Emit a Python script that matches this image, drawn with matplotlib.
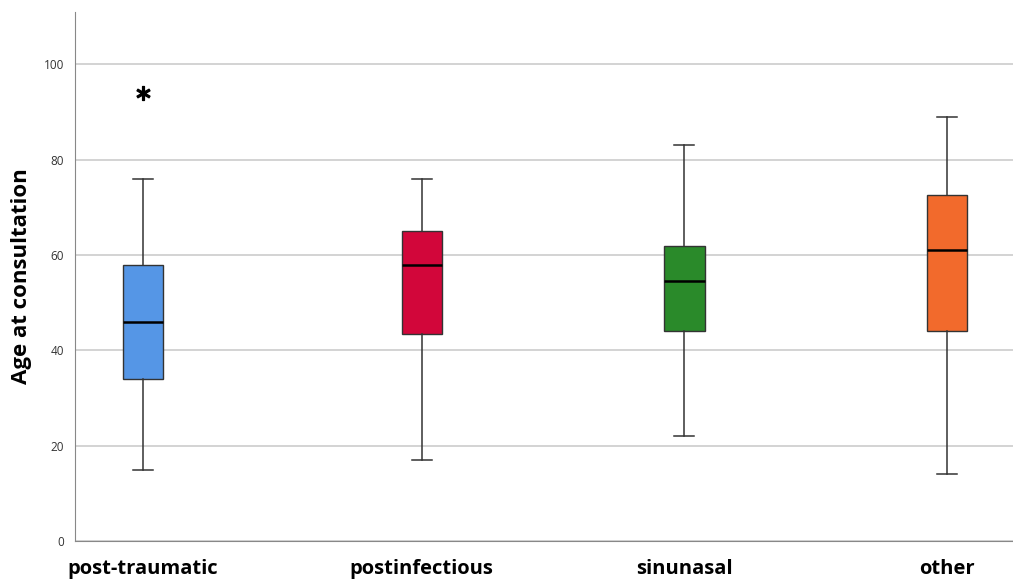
import matplotlib.pyplot as plt

# box statistics
groups = ["post-traumatic", "postinfectious", "sinunasal", "other"]
whislo = [15, 17, 22, 14]
q1 = [34, 43.5, 44, 44]
med = [46, 58, 54.5, 61]
q3 = [58, 65, 62, 72.5]
whishi = [76, 76, 83, 89]
outliers = [[94], [], [], []]
colors = ["#5596E6", "#D2063A", "#2A8A2A", "#F26A2C"]


def main():
    plt.rcParams["font.family"] = ["Open Sans", "DejaVu Sans"]
    fig = plt.figure(figsize=(10.13, 5.83), dpi=100)
    ax = fig.add_axes([75 / 1013, 1 - 541 / 583, 1 - 75 / 1013, (541 - 12) / 583])

    stats = []
    for i, g in enumerate(groups):
        stats.append({"label": g, "whislo": whislo[i], "q1": q1[i], "med": med[i],
                      "q3": q3[i], "whishi": whishi[i], "fliers": outliers[i]})

    pos = [0, 1.04, 2.02, 3]  # slightly uneven spacing as in the original
    bp = ax.bxp(stats, positions=pos, widths=0.15, patch_artist=True,
                showfliers=True,
                medianprops=dict(color="black", linewidth=1.8),
                whiskerprops=dict(color="#333333", linewidth=1.1),
                capprops=dict(color="#333333", linewidth=1.1),
                capwidths=0.075,
                flierprops=dict(marker=r"$\ast$", markersize=10, markerfacecolor="black",
                                markeredgecolor="black", linestyle="none"))
    for patch, c in zip(bp["boxes"], colors):
        patch.set_facecolor(c)
        patch.set_edgecolor("#333333")
        patch.set_linewidth(1.0)

    ax.set_xlim(-0.254, 3.246)
    ax.set_ylim(0, 111)
    ax.set_yticks([0, 20, 40, 60, 80, 100])
    ax.yaxis.grid(True, color="#cccccc", linewidth=1.2)
    ax.set_axisbelow(True)
    for s in ["top", "right"]:
        ax.spines[s].set_visible(False)
    ax.spines["left"].set_color("#888888")
    ax.spines["bottom"].set_color("#888888")
    ax.tick_params(axis="x", length=0, pad=13, labelsize=14.5)
    ax.tick_params(axis="y", length=0, pad=8, labelsize=8.5, labelcolor="#333333")
    for lbl in ax.get_xticklabels():
        lbl.set_fontweight("bold")
    ax.set_ylabel("Age at consultation", fontsize=16, fontweight="bold", labelpad=8)

    fig.savefig("out.png", dpi=100)


if __name__ == "__main__":
    main()
